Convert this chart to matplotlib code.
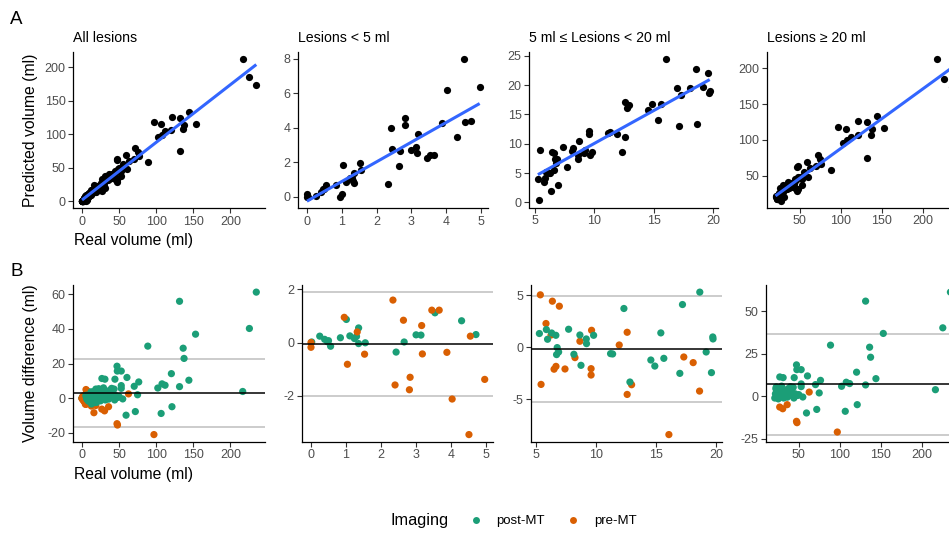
import numpy as np
import matplotlib
matplotlib.use("Agg")
import matplotlib.pyplot as plt
from matplotlib.lines import Line2D

plt.rcParams['font.family'] = ['Liberation Sans', 'DejaVu Sans']
plt.rcParams['axes.unicode_minus'] = False

# ---------------- data ----------------
# Lesions < 5 ml: real volume, difference (real - predicted), imaging
small_real = [0.02, 0.25, 0.39, 0.50, 0.47, 0.56, 0.84, 1.01, 1.11, 1.24, 1.30, 1.36, 1.36, 1.55,
              2.43, 2.66, 3.00, 3.14, 3.54, 4.30, 4.71,
              0.00, 0.00, 0.95, 1.04, 1.32, 1.53, 2.34, 2.40, 2.64, 2.83, 2.81, 3.16, 3.18,
              3.45, 3.66, 3.88, 4.03, 4.51, 4.55, 4.96]
small_diff = [0.02, 0.24, 0.12, 0.07, 0.03, -0.14, 0.18, 0.87, 0.25, 0.15, 0.23, 0.55, -0.04, -0.01,
              -0.36, 0.02, 0.29, 0.28, 1.12, 0.82, 0.30,
              0.00, -0.18, 0.95, -0.82, 0.40, -0.44, 1.60, -1.60, 0.84, -1.31, -1.78, 0.64, -0.43,
              1.22, 1.22, -0.37, -2.13, -3.47, 0.24, -1.39]
small_img = ['post-MT'] * 21 + ['pre-MT'] * 20

# 5 ml <= Lesions < 20 ml
mid_real = [5.36, 6.36, 6.94, 5.83, 6.25, 5.42, 6.50, 6.66, 7.41, 8.24, 8.65, 9.62, 9.58, 9.58,
            11.92, 12.58, 12.58, 12.95, 16.05, 17.29, 18.07, 18.60,
            5.28, 5.86, 5.96, 6.30, 6.65, 6.76, 6.71, 6.88, 7.71, 8.15, 8.65, 8.74, 9.18, 9.20,
            9.79, 11.20, 11.37, 12.31, 12.81, 14.55, 14.88, 15.38, 15.63, 16.96, 17.18, 18.62,
            19.15, 19.59, 19.70, 19.72]
mid_diff = [5.03, 4.42, 3.94, 2.28, 1.18, -3.56, -2.10, -1.83, -2.08, -0.99, 0.58, 1.63, -2.05, -2.66,
            0.22, 1.44, -4.52, -3.59, -8.37, -0.93, -1.47, -4.20,
            1.32, 1.70, 0.77, 1.37, 1.15, -0.03, -0.70, -0.45, 1.73, -0.67, 1.18, -1.73, 0.80, 0.35,
            1.15, -0.61, -0.64, 3.72, -3.33, -1.22, -1.80, 1.38, -1.06, -2.50, 4.10, 5.29,
            -0.45, -2.43, 0.99, 0.80]
mid_img = ['pre-MT'] * 22 + ['post-MT'] * 30

# Lesions >= 20 ml
large_real = [131.5, 88.7, 153.1, 136.4, 137.6, 120.5, 144.1, 131.5, 112.0, 107.9, 102.2, 121.3,
              106.7, 216.7, 225.7, 235.0,
              20.7, 21.5, 22.0, 22.5, 23.5, 24.0, 25.0, 25.5, 26.8, 27.5, 28.0, 29.0, 30.0, 30.9,
              31.5, 33.0, 34.5, 36.0, 37.0, 38.5, 39.9, 41.0, 42.0, 43.2, 44.0, 44.4, 45.5, 47.2,
              47.6, 48.5, 50.0, 52.9, 52.9, 52.9, 54.9, 59.4, 60.6, 70.4, 71.9, 74.9, 76.5,
              97.0, 62.7, 47.2, 47.8, 35.8, 30.4, 26.7]
large_diff = [56.0, 30.1, 37.0, 28.9, 23.0, 14.2, 10.4, 6.7, 7.5, 8.3, 5.9, -4.9,
              -8.8, 3.9, 40.3, 61.3,
              -1.0, 1.5, 4.5, 5.5, 3.0, 0.5, -1.5, 2.0, 11.4, 4.5, 0.0, 6.0, 2.5, 11.0,
              -1.0, 1.0, 3.5, -0.5, 4.5, 2.0, 5.7, 0.5, 2.0, 5.3, -1.0, 11.0, 1.5, 18.5,
              15.7, 0.5, 1.0, 15.7, 7.3, 5.7, -0.4, -9.8, 12.0, 6.9, -7.7, 2.0, 9.4,
              -21.0, 2.5, -14.7, -15.5, -4.9, -7.3, -6.3]
large_img = ['post-MT'] * 57 + ['pre-MT'] * 7

# Bland-Altman lines: (bias, upper limit, lower limit)
ba_all = (3.0, 22.8, -16.6)
ba_small = (-0.05, 1.90, -2.00)
ba_mid = (-0.15, 4.90, -5.20)
ba_large = (7.1, 36.7, -22.5)

titles = ["All lesions", "Lesions < 5 ml", "5 ml \u2264 Lesions < 20 ml", "Lesions \u2265 20 ml"]
xticks = [[0, 50, 100, 150, 200], [0, 1, 2, 3, 4, 5], [5, 10, 15, 20], [50, 100, 150, 200]]
yticksA = [[0, 50, 100, 150, 200], [0, 2, 4, 6, 8], [0, 5, 10, 15, 20, 25], [50, 100, 150, 200]]
yticksB = [[-20, 0, 20, 40, 60], [-2, 0, 2], [-5, 0, 5], [-25, 0, 25, 50]]

colors = {'post-MT': '#1B9E77', 'pre-MT': '#D95F02'}

# ---------------- build groups ----------------
def grp(real, diff, img):
    r = np.array(real, float)
    d = np.array(diff, float)
    return r, r - d, d, list(img)

gs = grp(small_real, small_diff, small_img)
gm = grp(mid_real, mid_diff, mid_img)
gl = grp(large_real, large_diff, large_img)
ga = (np.concatenate([gs[0], gm[0], gl[0]]), np.concatenate([gs[1], gm[1], gl[1]]),
      np.concatenate([gs[2], gm[2], gl[2]]), gs[3] + gm[3] + gl[3])
groups = [ga, gs, gm, gl]
bas = [ba_all, ba_small, ba_mid, ba_large]

W, H = 949, 533
fig = plt.figure(figsize=(W / 100, H / 100), dpi=100)

def add_ax(l, r, t, b):
    return fig.add_axes([l / W, 1 - b / H, (r - l) / W, (b - t) / H])

def lims(*arrs):
    v = np.concatenate([np.atleast_1d(np.asarray(a, float)) for a in arrs])
    lo, hi = v.min(), v.max()
    pad = (hi - lo) * 0.05
    return lo - pad, hi + pad

def style(ax):
    for s in ['top', 'right']:
        ax.spines[s].set_visible(False)
    for s in ['left', 'bottom']:
        ax.spines[s].set_linewidth(0.9)
        ax.spines[s].set_color('black')
    ax.tick_params(axis='both', length=3.5, width=0.8, color='#333333',
                   labelsize=9, labelcolor='#4D4D4D', pad=2)

posA = [(73.3, 265, 51.7, 208.3), (298.3, 488.3, 52, 208.3), (529.3, 718.3, 52, 207.5), (766.7, 960.5, 52, 207.7)]
posB = [(73.3, 265, 285, 441.7), (302.3, 493.4, 285, 441.7), (530.7, 721.7, 285, 441.7), (766, 959.2, 285, 441.7)]

PT = 27

for i, (g, ba) in enumerate(zip(groups, bas)):
    real, pred, diff, img = g
    # ---- row A ----
    ax = add_ax(*posA[i])
    style(ax)
    ax.scatter(real, pred, s=PT, c='black', linewidths=0, zorder=2)
    k, c0 = np.polyfit(real, pred, 1)
    xl = np.array([real.min(), real.max()])
    yl = k * xl + c0
    ax.plot(xl, yl, color='#3366FF', lw=2.2, zorder=3, solid_capstyle='butt')
    ax.set_xlim(*lims(real))
    ax.set_ylim(*lims(pred, yl))
    ax.set_xticks(xticks[i])
    ax.set_yticks(yticksA[i])
    ax.text(0, 1.045, titles[i], transform=ax.transAxes, ha='left', va='bottom', fontsize=10.2)
    # ---- row B ----
    bx = add_ax(*posB[i])
    style(bx)
    bx.axhline(ba[1], color='#BEBEBE', lw=1.1, zorder=1)
    bx.axhline(ba[2], color='#BEBEBE', lw=1.1, zorder=1)
    bx.axhline(ba[0], color='black', lw=1.1, zorder=3)
    cols = [colors[m] for m in img]
    bx.scatter(real, diff, s=PT, c=cols, linewidths=0, zorder=2)
    bx.set_xlim(*lims(real))
    bx.set_ylim(*lims(diff, ba[1], ba[2]))
    bx.set_xticks(xticks[i])
    bx.set_yticks(yticksB[i])

# axis titles and tags
fig.text(30 / W, 1 - 130 / H, "Predicted volume (ml)", rotation=90, ha='center', va='center', fontsize=11.3)
fig.text(30 / W, 1 - 363 / H, "Volume difference (ml)", rotation=90, ha='center', va='center', fontsize=11.3)
fig.text(133.5 / W, 1 - 240 / H, "Real volume (ml)", ha='center', va='center', fontsize=11.3)
fig.text(133.5 / W, 1 - 475 / H, "Real volume (ml)", ha='center', va='center', fontsize=11.3)
fig.text(10 / W, 1 - 19 / H, "A", ha='left', va='center', fontsize=13.5)
fig.text(11 / W, 1 - 272 / H, "B", ha='left', va='center', fontsize=13.5)

# legend
fig.text(390 / W, 1 - 521 / H, "Imaging", ha='left', va='center', fontsize=11.8)
handles = [Line2D([], [], marker='o', ls='', color=colors['post-MT'], markersize=5, markeredgewidth=0),
           Line2D([], [], marker='o', ls='', color=colors['pre-MT'], markersize=5, markeredgewidth=0)]
fig.legend(handles, ['post-MT', 'pre-MT'], loc='center left', bbox_to_anchor=(466 / W, 1 - 521 / H),
           ncol=2, frameon=False, fontsize=9.5, handletextpad=0.8, columnspacing=1.4,
           handlelength=1.5, borderaxespad=0, borderpad=0)

fig.savefig("out.png", dpi=100)
